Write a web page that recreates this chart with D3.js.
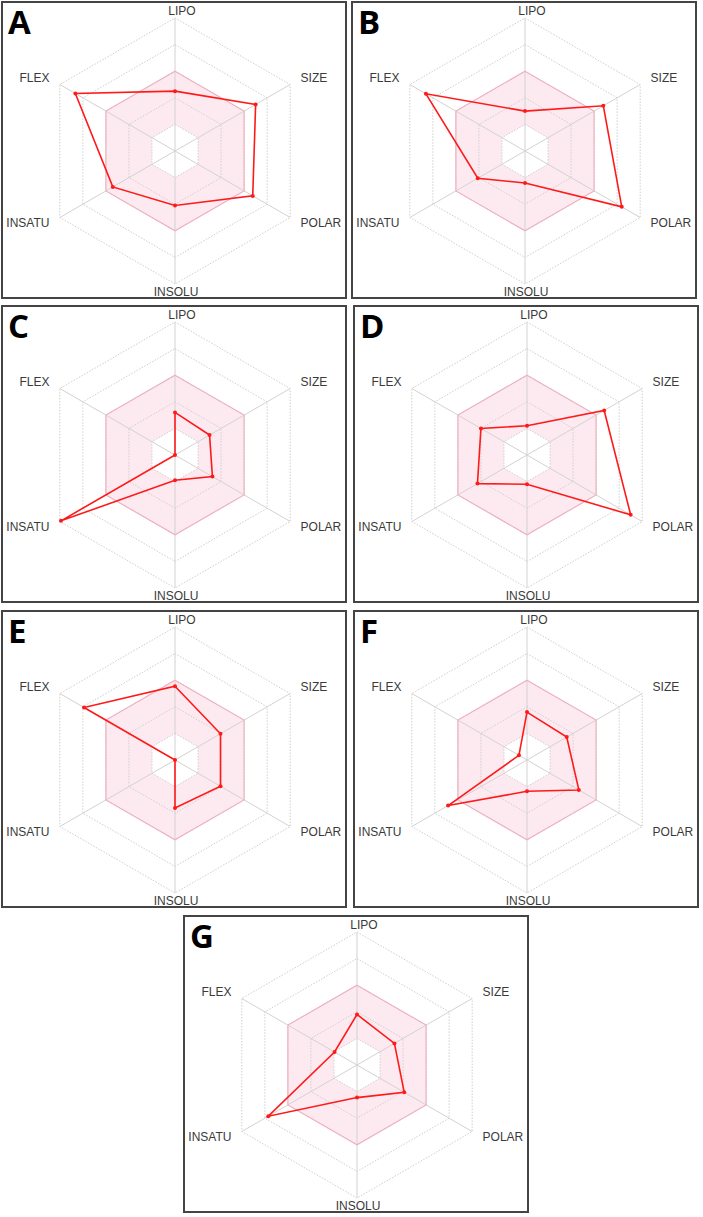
<!DOCTYPE html>
<html>
<head>
<meta charset="utf-8">
<script src="https://cdn.jsdelivr.net/npm/d3@7"></script>
<style>
  body { margin: 0; background: #fff; }
  svg { display: block; }
</style>
</head>
<body>
<svg id="chart"></svg>
<script>
// Axis names, clockwise from the top
var axes = ["LIPO", "SIZE", "POLAR", "INSOLU", "INSATU", "FLEX"];
var panelNames = ["A", "B", "C", "D", "E", "F", "G"];

// Values (fraction of the outer ring)
var valuesA = [0.45, 0.70, 0.675, 0.41, 0.54, 0.865];
var valuesB = [0.30, 0.68, 0.84, 0.24, 0.41, 0.86];
var valuesC = [0.32, 0.30, 0.325, 0.19, 0.99, 0.0];
var valuesD = [0.22, 0.67, 0.90, 0.22, 0.43, 0.40];
var valuesE = [0.555, 0.395, 0.395, 0.36, 0.0, 0.79];
var valuesF = [0.36, 0.345, 0.45, 0.235, 0.685, 0.07];
var valuesG = [0.38, 0.325, 0.41, 0.245, 0.77, 0.195];
var allValues = [valuesA, valuesB, valuesC, valuesD, valuesE, valuesF, valuesG];

// Ring levels and the pink optimal band
var ringLevels = [0.2, 0.4, 0.6, 0.8, 1.0];
var bandInner = 0.2, bandOuter = 0.6;

// Panel box positions (top-left corners)
var boxes = [
    { x: 2, y: 2 }, { x: 352, y: 2 },
    { x: 2, y: 306 }, { x: 354, y: 306 },
    { x: 2, y: 611 }, { x: 354, y: 611 },
    { x: 184, y: 916 }
];

var w = 703, h = 1217;
var boxW = 344, boxH = 296;
var cx = 173, cy = 149;
var R = 133;

var svg = d3.select("#chart").attr("width", w).attr("height", h);

var r = d3.scaleLinear().domain([0, 1]).range([0, R]);
var angle = d3.scaleLinear().domain([0, axes.length]).range([0, 2 * Math.PI]);

// radial line: 0 rad is 12 o'clock, going clockwise
var radar = d3.lineRadial()
    .angle(function (d, i) { return angle(i); })
    .radius(function (d) { return r(d); })
    .curve(d3.curveLinearClosed);

function ring(level) {
    return radar(axes.map(function () { return level; }));
}

function pt(i, v) {
    var a = angle(i);
    return [r(v) * Math.sin(a), -r(v) * Math.cos(a)];
}

panelNames.forEach(function (name, p) {
    var box = boxes[p];
    var g = svg.append("g").attr("transform", "translate(" + box.x + "," + box.y + ")");

    g.append("rect")
        .attr("x", 0).attr("y", 0)
        .attr("width", boxW).attr("height", boxH)
        .attr("fill", "#fff")
        .attr("stroke", "#444")
        .attr("stroke-width", 2);

    g.append("text")
        .attr("x", 6).attr("y", 32)
        .attr("font-family", "'Open Sans', 'Liberation Sans', sans-serif")
        .attr("font-weight", 700)
        .attr("font-size", 33)
        .attr("fill", "#000")
        .text(name);

    var c = g.append("g").attr("transform", "translate(" + cx + "," + cy + ")");

    // pink optimal band
    c.append("path")
        .attr("d", ring(bandOuter) + ring(bandInner))
        .attr("fill", "#fdeaf0")
        .attr("fill-rule", "evenodd");

    // dotted rings
    c.selectAll(".ring")
        .data(ringLevels)
        .enter().append("path")
        .attr("class", "ring")
        .attr("d", function (d) { return ring(d); })
        .attr("fill", "none")
        .attr("stroke", "#cfcfcf")
        .attr("stroke-width", 1)
        .attr("stroke-dasharray", "1.5,1.5");

    // solid spokes
    c.selectAll(".spoke")
        .data(axes)
        .enter().append("line")
        .attr("class", "spoke")
        .attr("x1", 0).attr("y1", 0)
        .attr("x2", function (d, i) { return pt(i, 1)[0]; })
        .attr("y2", function (d, i) { return pt(i, 1)[1]; })
        .attr("stroke", "#d2d2d2")
        .attr("stroke-width", 1);

    c.append("path")
        .attr("d", ring(bandOuter))
        .attr("fill", "none")
        .attr("stroke", "#eeb3c0")
        .attr("stroke-width", 1.2);

    // axis labels
    c.selectAll(".lab")
        .data(axes)
        .enter().append("text")
        .attr("class", "lab")
        .attr("font-family", "'Liberation Sans', Arial, sans-serif")
        .attr("font-size", 12)
        .attr("fill", "#3a3a3a")
        .attr("x", function (d, i) {
            if (i === 0) return 7;
            if (i === 3) return 1;
            var a = angle(i);
            return 145 * Math.sin(a);
        })
        .attr("y", function (d, i) {
            if (i === 0) return -R - 3;
            if (i === 3) return R + 12;
            var a = angle(i);
            return -145 * Math.cos(a);
        })
        .attr("dy", function (d, i) { return (i === 0 || i === 3) ? 0 : "0.28em"; })
        .attr("text-anchor", function (d, i) {
            if (i === 0 || i === 3) return "middle";
            return i < 3 ? "start" : "end";
        })
        .text(function (d) { return d; });

    // compound profile
    var vals = allValues[p];
    c.append("path")
        .attr("d", radar(vals))
        .attr("fill", "none")
        .attr("stroke", "#ff1a1a")
        .attr("stroke-width", 1.6);

    c.selectAll(".dot")
        .data(vals)
        .enter().append("circle")
        .attr("class", "dot")
        .attr("cx", function (d, i) { return pt(i, d)[0]; })
        .attr("cy", function (d, i) { return pt(i, d)[1]; })
        .attr("r", 2)
        .attr("fill", "#ff1a1a");
});
</script>
</body>
</html>
